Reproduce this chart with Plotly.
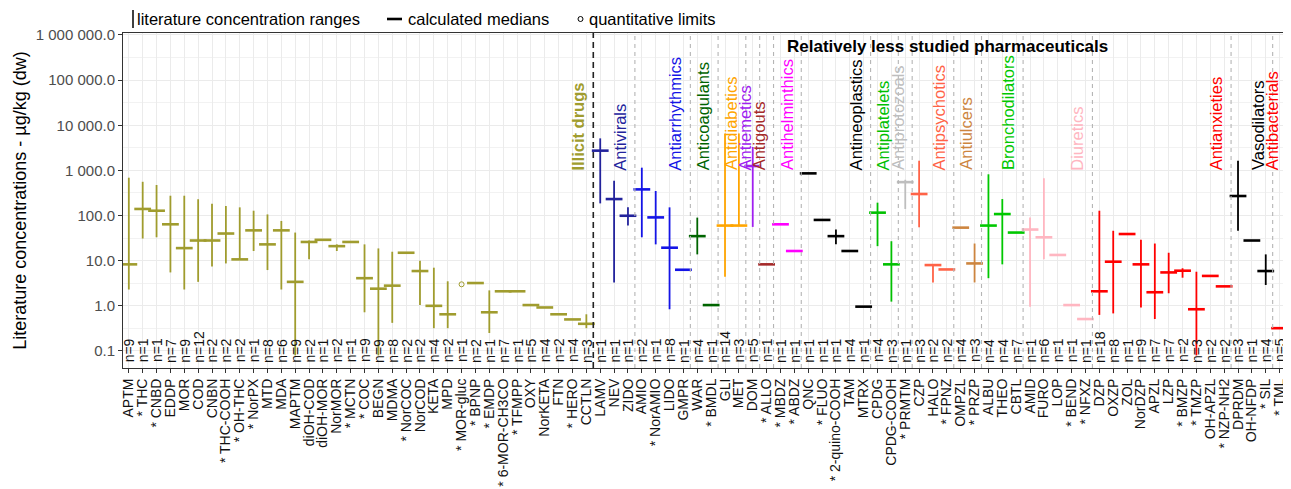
import plotly.graph_objects as go

# the page body adds an 8px margin, so the figure is drawn 8px right/down
OFF = 8
W, H = 1291 - OFF, 489 - OFF
ML, MR, MT, MB = 123 - OFF, 1, 33 - OFF, 121
FONT = "Liberation Sans, Arial, sans-serif"

# ---------------- data ----------------
names = [
    "APTM", "* THC", "* CNBD", "EDDP", "MOR", "COD", "CNBN", "* THC-COOH", "* OH-THC", "* NorPX",
    "MTD", "MDA", "MAPTM", "diOH-COD", "diOH-MOR", "NorMOR", "* MCTN", "* COC", "BEGN", "MDMA",
    "* NorCOC", "NorCOD", "KETA", "MPD", "* MOR-gluc", "* BPNP", "* EMDP", "* 6-MOR-CH3CO", "* TFMPP", "OXY",
    "NorKETA", "FTN", "* HERO", "CCTLN",
    "LAMV", "NEV", "ZIDO",
    "AMIO", "* NorAMIO", "LIDO", "GMPR",
    "WAR", "* BMDL",
    "GLI", "MET",
    "DOM",
    "* ALLO",
    "* MBDZ", "* ABDZ",
    "QNC", "* FLUO", "* 2-quino-COOH", "TAM", "MTRX",
    "CPDG", "CPDG-COOH",
    "* PRMTM",
    "CZP", "HALO", "* FPNZ",
    "OMPZL", "* PRZP",
    "ALBU", "THEO", "CBTL",
    "AMID", "FURO", "LOP", "* BEND", "* NFXZ",
    "DZP", "OXZP", "ZOL", "NorDZP", "APZL", "LZP", "* BMZP", "* TMZP", "OH-APZL", "* NZP-NH2",
    "DPRDM", "OH-NFDP", "* SIL",
    "* TML",
]

n_counts = [
    9, 1, 1, 7, 9, 12, 2, 2, 2, 1,
    8, 6, 9, 2, 1, 2, 1, 9, 9, 8,
    2, 2, 4, 2, 1, 2, 1, 7, 1, 5,
    4, 2, 4, 3,
    1, 1, 1,
    2, 1, 8, 1,
    4, 1,
    14, 3,
    5,
    1,
    1, 1,
    1, 1, 1, 4, 1,
    4, 3,
    1,
    3, 2, 2,
    4, 3,
    4, 4, 7,
    1, 6, 1, 1, 1,
    18, 8, 1, 9, 7, 7, 2, 3, 2, 2,
    3, 1, 4,
    5,
]

range_low = [
    2.3, 31, 33, 5.5, 2.3, 3.4, 7.4, 8.7, 10.7, 16.4,
    6.2, 2.3, 0.08, 10.7, None, 16.4, None, 0.72, 0.08, 0.42,
    None, 1.04, 0.32, 0.32, None, None, 0.25, None, None, None,
    None, None, None, 0.32,
    186, 3.3, 60,
    33, 23, 0.84, None,
    13.8, None,
    4.4, 60,
    56,
    None,
    None, None,
    None, None, 23, None, None,
    21, 1.24,
    140,
    55, 3.3, None,
    None, 3.3,
    4.1, 8.3, None,
    0.96, 10.7, None, None, None,
    0.63, 0.68, None, 0.92, 0.51, 1.9, 4.2, 0.08, None, None,
    46, None, 2.9,
    None,
]

median = [
    8.3, 140, 128, 64, 19, 28, 28, 40, 10.7, 47,
    23, 47, 3.4, 26, 29, 21, 26, 4.1, 2.4, 2.8,
    15, 5.9, 1.0, 0.65, None, 3.2, 0.72, 2.1, 2.1, 1.04,
    0.92, 0.65, 0.5, 0.40,
    2740, 232, 99,
    380, 91, 19.4, 6.3,
    35, 1.04,
    60, 60,
    1250,
    8.3,
    64, 16.4,
    860, 80, 35, 16.4, 0.96,
    116, 8.3,
    550,
    300, 8.0, 6.4,
    54, 8.7,
    60, 108, 42,
    49, 33, 13.4, 1.04, 0.51,
    2.1, 9.5, 39, 8.3, 2.0, 5.5, 6.0, 0.84, 4.6, 2.7,
    271, 28, 5.9,
    0.32,
]

range_high = [
    690, 560, 475, 275, 275, 230, 183, 163, 152, 128,
    106, 76, 42, 28, None, 23, None, 23, 18.7, 15.8,
    None, 10, 7.0, 3.5, None, None, 2.2, None, None, None,
    None, None, None, 0.65,
    5130, 593, 152,
    1150, 350, 152, None,
    90, None,
    6600, 6600,
    3300,
    None,
    None, None,
    None, None, 49, None, None,
    193, 27,
    620,
    1640, 8.0, None,
    None, 24,
    820, 232, None,
    90, 667, None, None, None,
    128, 46, None, 29, 24, 15, 6.8, 5.7, None, None,
    1640, None, 13.8,
    None,
]

# quantitative limits (only MOR-gluc)
limit_names = ["* MOR-gluc"]
limit_values = [3.0]

group_names = [
    "Illicit drugs", "Antivirals", "Antiarrhythmics", "Anticoagulants", "Antidiabetics",
    "Antiemetics", "Antigouts", "Antihelminthics", "Antineoplastics", "Antiplatelets",
    "Antiprotozoals", "Antipsychotics", "Antiulcers", "Bronchodilators", "Diuretics",
    "Antianxieties", "Vasodilators", "Antibacterials",
]
group_sizes = [34, 3, 4, 2, 2, 1, 1, 2, 5, 2, 1, 3, 2, 3, 5, 10, 3, 1]
group_colors = [
    "#a09c2e", "#23239c", "#1414e6", "#006400", "#ffa500",
    "#a020f0", "#a52a2a", "#ff00ff", "#000000", "#00c000",
    "#bebebe", "#ff6347", "#cd853f", "#00c800", "#ffb6c1",
    "#ff0000", "#000000", "#ff0000",
]

y_tickvals = [0.1, 1, 10, 100, 1000, 10000, 100000, 1000000]
y_ticktext = ["0.1", "1.0", "10.0", "100.0", "1 000.0", "10 000.0", "100 000.0", "1 000 000.0"]
y_range_log = [-1.377, 6.044]
x_range = [-0.42, 83.75]

# ---------------- helpers (reference-image pixels -> paper) ----------------
plot_w = W - ML - MR
plot_h = H - MT - MB


def px_to_paper_x(px):
    return (px - OFF - ML) / plot_w


def px_to_paper_y(py):
    return (H - MB - (py - OFF)) / plot_h


fig = go.Figure()

group_of = []
for gi, size in enumerate(group_sizes):
    group_of += [gi] * size

for gi, gname in enumerate(group_names):
    idx = [i for i in range(len(names)) if group_of[i] == gi]
    col = group_colors[gi]
    xs, ys = [], []
    for i in idx:
        if range_low[i] is not None and range_high[i] is not None:
            xs += [names[i], names[i], None]
            ys += [range_low[i], range_high[i], None]
    if xs:
        fig.add_trace(go.Scatter(x=xs, y=ys, mode="lines", line=dict(color=col, width=1.8),
                                 showlegend=False, hoverinfo="skip"))
    mx = [names[i] for i in idx if median[i] is not None]
    my = [median[i] for i in idx if median[i] is not None]
    if mx:
        fig.add_trace(go.Scatter(x=mx, y=my, mode="markers",
                                 marker=dict(symbol="line-ew", size=12, color=col,
                                             line=dict(color=col, width=2.6)),
                                 showlegend=False))

fig.add_trace(go.Scatter(x=limit_names, y=limit_values, mode="markers",
                         marker=dict(symbol="circle-open", size=5, color=group_colors[0],
                                     line=dict(color=group_colors[0], width=1)),
                         showlegend=False))

annotations = []
# n labels
for i, nm in enumerate(names):
    annotations.append(dict(x=i, y=-1.30, xref="x", yref="y", text=f"n={n_counts[i]}",
                            textangle=-90, showarrow=False, xanchor="center", yanchor="bottom",
                            font=dict(family=FONT, size=14, color="#111111")))

# group labels
end = -1
for gi, gname in enumerate(group_names):
    end += group_sizes[gi]
    annotations.append(dict(x=end, y=2.96, xref="x", yref="y", text=gname if gi else "<b>Illicit drugs</b>",
                            textangle=-90, showarrow=False, xanchor="right", yanchor="bottom", xshift=3,
                            font=dict(family=FONT, size=16.5, color=group_colors[gi])))

annotations.append(dict(x=59.05, y=5.756, xref="x", yref="y",
                        text="<b>Relatively less studied pharmaceuticals</b>", showarrow=False,
                        xanchor="center", yanchor="middle",
                        font=dict(family=FONT, size=17, color="#000000")))

# legend (top)
leg_y = px_to_paper_y(19)
annotations += [
    dict(x=px_to_paper_x(135), y=leg_y, xref="paper", yref="paper", text="literature concentration ranges",
         showarrow=False, xanchor="left", yanchor="middle", font=dict(family=FONT, size=16.5, color="#000")),
    dict(x=px_to_paper_x(406), y=leg_y, xref="paper", yref="paper", text="calculated medians",
         showarrow=False, xanchor="left", yanchor="middle", font=dict(family=FONT, size=16.5, color="#000")),
    dict(x=px_to_paper_x(587), y=leg_y, xref="paper", yref="paper", text="quantitative limits",
         showarrow=False, xanchor="left", yanchor="middle", font=dict(family=FONT, size=16.5, color="#000")),
]

shapes = []
# legend symbols
shapes.append(dict(type="line", xref="paper", yref="paper", x0=px_to_paper_x(133), x1=px_to_paper_x(133),
                   y0=px_to_paper_y(10), y1=px_to_paper_y(28), line=dict(color="#000", width=1.5)))
shapes.append(dict(type="line", xref="paper", yref="paper", x0=px_to_paper_x(387), x1=px_to_paper_x(402),
                   y0=leg_y, y1=leg_y, line=dict(color="#000", width=2.6)))
shapes.append(dict(type="circle", xref="paper", yref="paper", x0=px_to_paper_x(578), x1=px_to_paper_x(583),
                   y0=px_to_paper_y(21.5), y1=px_to_paper_y(16.5), line=dict(color="#000", width=1)))

# group separators
end = -1
for gi, size in enumerate(group_sizes[:-1]):
    end += size
    if gi == 0:
        line = dict(color="#222222", width=1.6, dash="6px,4px")
    else:
        line = dict(color="#b5b5b5", width=1.1, dash="4px,4px")
    shapes.append(dict(type="line", xref="x", yref="paper", x0=end + 0.5, x1=end + 0.5, y0=0, y1=1,
                       line=line, layer="above"))

fig.update_layout(
    width=W, height=H,
    margin=dict(l=ML, r=MR, t=MT, b=MB),
    plot_bgcolor="white", paper_bgcolor="white",
    font=dict(family=FONT, color="#000"),
    annotations=annotations, shapes=shapes,
    showlegend=False,
)

fig.update_xaxes(
    type="category", categoryorder="array", categoryarray=names, range=x_range,
    tickmode="linear", tick0=0, dtick=1,
    tickangle=-90, tickfont=dict(family=FONT, size=14, color="#111111"),
    showgrid=True, gridcolor="#ebebeb", gridwidth=1,
    ticks="outside", ticklen=4, tickcolor="#333333",
    showline=True, mirror=True, linecolor="#333333", linewidth=1, zeroline=False,
    automargin=False,
)

fig.update_yaxes(
    type="log", range=y_range_log, tickvals=y_tickvals, ticktext=y_ticktext,
    tickfont=dict(family=FONT, size=15, color="#4d4d4d"),
    showgrid=True, gridcolor="#ebebeb", gridwidth=1,
    minor=dict(tickvals=[10 ** (k + 0.5) for k in range(-2, 6)], showgrid=True,
               gridcolor="#f2f2f2", gridwidth=0.8, ticklen=0),
    ticks="outside", ticklen=4, tickcolor="#333333",
    showline=True, mirror=True, linecolor="#333333", linewidth=1, zeroline=False,
    title=dict(text="Literature concentrations - µg/kg (dw)", standoff=4,
               font=dict(family=FONT, size=18, color="#000")),
    automargin=False,
)

fig.write_html("out.html")
